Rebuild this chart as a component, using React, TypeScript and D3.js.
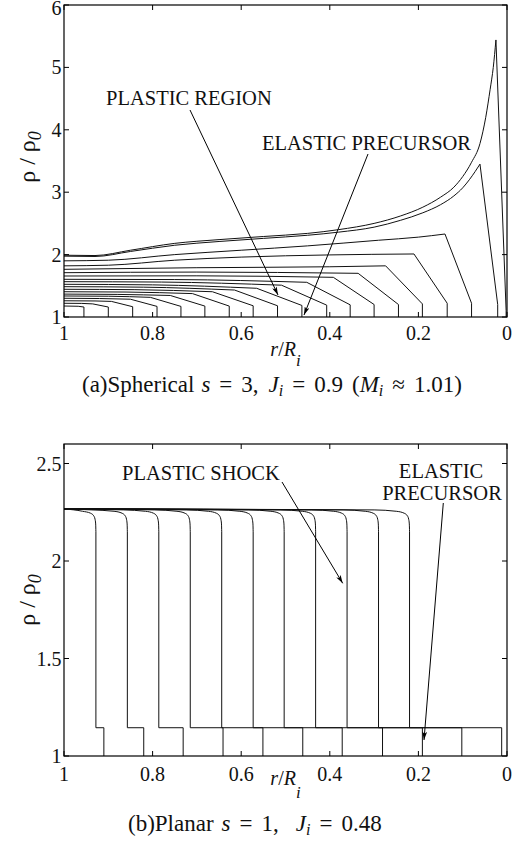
import React from "react";
import * as d3 from "d3";

const W = 521;
const H = 843;

// ---------- shared axis ticks ----------
const xTicks = [1, 0.8, 0.6, 0.4, 0.2, 0];
const xTickLabels = ["1", "0.8", "0.6", "0.4", "0.2", "0"];
const sphYTicks = [1, 2, 3, 4, 5, 6];
const sphYTickLabels = ["1", "2", "3", "4", "5", "6"];
const planYTicks = [1, 1.5, 2, 2.5];
const planYTickLabels = ["1", "1.5", "2", "2.5"];

// ---------- (a) spherical: plateau samples [r/Ri, rho/rho0] from r=1 to the plastic front ----------
const sphPlateau: [number, number][][] = [
  [[1, 1.176], [0.968, 1.172]],
  [[1, 1.22], [0.96, 1.218], [0.935, 1.21]],
  [[1, 1.26], [0.93, 1.257], [0.893, 1.25]],
  [[1, 1.3], [0.92, 1.296], [0.85, 1.285]],
  [[1, 1.337], [0.9, 1.333], [0.805, 1.315]],
  [[1, 1.367], [0.88, 1.362], [0.76, 1.345]],
  [[1, 1.405], [0.86, 1.4], [0.71, 1.375]],
  [[1, 1.444], [0.84, 1.438], [0.665, 1.405]],
  [[1, 1.486], [0.82, 1.478], [0.615, 1.432]],
  [[1, 1.524], [0.8, 1.515], [0.565, 1.46]],
  [[1, 1.566], [0.78, 1.56], [0.509, 1.51]],
  [[1, 1.604], [0.75, 1.6], [0.452, 1.556]],
  [[1, 1.657], [0.7, 1.66], [0.392, 1.636]],
  [[1, 1.71], [0.7, 1.72], [0.336, 1.7]],
  [[1, 1.764], [0.7, 1.79], [0.4, 1.805], [0.274, 1.82]],
  [[1, 1.82], [0.9, 1.83], [0.75, 1.91], [0.6, 1.96], [0.4, 1.995], [0.21, 2.01]],
  [[1, 1.9], [0.9, 1.91], [0.75, 2.0], [0.6, 2.07], [0.45, 2.14], [0.29, 2.23], [0.2, 2.28], [0.14, 2.33]],
  [[1, 1.975], [0.93, 1.97], [0.85, 2.05], [0.75, 2.15], [0.65, 2.21], [0.55, 2.26], [0.45, 2.31], [0.38, 2.36], [0.3, 2.44], [0.24, 2.55], [0.19, 2.67], [0.15, 2.8], [0.12, 2.94], [0.1, 3.07], [0.085, 3.2], [0.072, 3.33], [0.061, 3.45]],
  [[1, 1.99], [0.93, 1.985], [0.85, 2.07], [0.75, 2.18], [0.65, 2.24], [0.55, 2.29], [0.45, 2.34], [0.38, 2.4], [0.3, 2.5], [0.24, 2.62], [0.19, 2.76], [0.15, 2.92], [0.12, 3.08], [0.1, 3.25], [0.08, 3.48], [0.061, 3.78], [0.048, 4.2], [0.038, 4.65], [0.031, 5.0], [0.025, 5.44]],
];
const sphElasticFront = [0.955, 0.9, 0.845, 0.79, 0.736, 0.682, 0.627, 0.573, 0.518, 0.463, 0.407, 0.354, 0.3, 0.245, 0.191, 0.135, 0.08, 0.021, 0.002];
const sphPrecursor = [1.16, 1.16, 1.165, 1.17, 1.17, 1.175, 1.175, 1.18, 1.18, 1.185, 1.19, 1.195, 1.2, 1.2, 1.21, 1.22, 1.22, 1.2, 1.1];

// ---------- (b) planar ----------
const planPlastic = [0.928, 0.857, 0.786, 0.715, 0.644, 0.573, 0.503, 0.432, 0.361, 0.29, 0.22];
const planElastic = [0.91, 0.82, 0.731, 0.641, 0.551, 0.461, 0.372, 0.281, 0.191, 0.102, 0.012];
const planPlateauLevel = 2.267;
const planPrecursorLevel = 1.145;
// shape of the rounded shoulder just behind the plastic shock: [offset in r, drop in rho]
const planShoulder: [number, number][] = [
  [0.08, 0.005], [0.03, 0.012], [0.012, 0.022], [0.005, 0.035], [0.002, 0.052], [0.0005, 0.077], [0, 0.117],
];

const FONT = "'Liberation Serif', 'Times New Roman', Times, serif";
const INK = "#111";

const X0 = 64, X1 = 507;

function Axes({ x, y, yTicks, yLabels, labelBaseline, titleBaseline, subDy, yTitleY }: any) {
  const [yb, yt] = y.range();
  const tl = 5;
  return (
    <g fontFamily={FONT} fill={INK}>
      <rect x={X0} y={yt} width={X1 - X0} height={yb - yt} fill="none" stroke="#000" strokeWidth={1.2} />
      {xTicks.map((t, i) => (
        <g key={"xt" + i}>
          <line x1={x(t)} x2={x(t)} y1={yb} y2={yb - tl} stroke="#000" strokeWidth={1} />
          <line x1={x(t)} x2={x(t)} y1={yt} y2={yt + tl} stroke="#000" strokeWidth={1} />
          <text x={x(t)} y={labelBaseline} fontSize={20} textAnchor="middle">{xTickLabels[i]}</text>
        </g>
      ))}
      {yTicks.map((t: number, i: number) => (
        <g key={"yt" + i}>
          <line x1={X0} x2={X0 + tl} y1={y(t)} y2={y(t)} stroke="#000" strokeWidth={1} />
          <line x1={X1} x2={X1 - tl} y1={y(t)} y2={y(t)} stroke="#000" strokeWidth={1} />
          <text x={61.5} y={Math.max(y(t), 8)} dy="0.35em" fontSize={20} textAnchor="end">{yLabels[i]}</text>
        </g>
      ))}
      <text x={(X0 + X1) / 2} y={titleBaseline} fontSize={20} textAnchor="middle">
        <tspan fontStyle="italic">r</tspan>/<tspan fontStyle="italic">R</tspan>
        <tspan fontStyle="italic" fontSize={17} dy={subDy}>i</tspan>
      </text>
      <text transform={`translate(35,${yTitleY}) rotate(-90)`} fontSize={24} textAnchor="middle">
        ρ / ρ<tspan fontSize={18} fontStyle="italic" dy={6}>0</tspan>
      </text>
    </g>
  );
}

export default function App() {
  const x = d3.scaleLinear().domain([1, 0]).range([X0, X1]);
  const yA = d3.scaleLinear().domain([1, 6]).range([317, 5]);
  const yB = d3.scaleLinear().domain([1, 2.6]).range([756, 444]);

  const lineA = d3.line<[number, number]>().x((d) => x(d[0])).y((d) => yA(d[1])).curve(d3.curveMonotoneX);
  const lineB = d3.line<[number, number]>().x((d) => x(d[0])).y((d) => yB(d[1])).curve(d3.curveMonotoneX);

  const sphPaths = sphPlateau.map((pl, i) => {
    const re = sphElasticFront[i];
    const pe = sphPrecursor[i];
    return `${lineA(pl)}L${x(re)},${yA(pe)}L${x(re)},${yA(1)}`;
  });

  const planPaths = planPlastic.map((rp, i) => {
    const re = planElastic[i];
    const pts: [number, number][] = [[1, planPlateauLevel]];
    planShoulder.forEach(([dr, drop]) => {
      if (rp + dr < 1) pts.push([rp + dr, planPlateauLevel - drop]);
    });
    return `${lineB(pts)}L${x(rp)},${yB(planPrecursorLevel)}L${x(re)},${yB(planPrecursorLevel)}L${x(re)},${yB(1)}`;
  });

  const gap = 9; // TeX-like spacing around relations
  return (
    <svg width={W} height={H} viewBox={`0 0 ${W} ${H}`} style={{ position: "absolute", left: 0, top: 0, background: "#fff" }}>
      <defs>
        <marker id="arr" viewBox="0 0 10 6" refX={10} refY={3} markerWidth={9} markerHeight={5} orient="auto" markerUnits="userSpaceOnUse">
          <path d="M0,0 L10,3 L0,6 L2.5,3 z" fill="#000" />
        </marker>
      </defs>

      {/* ---------- panel (a) ---------- */}
      <g fill="none" stroke={INK} strokeWidth={1} strokeLinejoin="miter">
        {sphPaths.map((d, i) => <path key={i} d={d} />)}
      </g>
      <Axes x={x} y={yA} yTicks={sphYTicks} yLabels={sphYTickLabels} labelBaseline={339.5} titleBaseline={356} subDy={10} yTitleY={157} />
      <g fontFamily={FONT} fill={INK} fontSize={20.5}>
        <text x={106} y={105}>PLASTIC REGION</text>
        <text x={262} y={150}>ELASTIC PRECURSOR</text>
      </g>
      <line x1={190} y1={110} x2={278} y2={295} stroke="#000" strokeWidth={1} markerEnd="url(#arr)" />
      <line x1={368} y1={154} x2={304} y2={315} stroke="#000" strokeWidth={1} markerEnd="url(#arr)" />
      <text x={82} y={392} fontFamily={FONT} fontSize={23} fill={INK}>
        (a)Spherical<tspan fontStyle="italic" dx={7}>s</tspan>
        <tspan dx={gap}>=</tspan><tspan dx={gap}>3,</tspan>
        <tspan fontStyle="italic" dx={10}>J</tspan>
        <tspan fontStyle="italic" fontSize={16} dy={4}>i</tspan>
        <tspan dy={-4} dx={gap}>=</tspan><tspan dx={gap}>0.9</tspan>
        <tspan dx={9}>(</tspan><tspan fontStyle="italic">M</tspan>
        <tspan fontStyle="italic" fontSize={16} dy={4}>i</tspan>
        <tspan dy={-4} dx={gap}>≈</tspan><tspan dx={gap}>1.01)</tspan>
      </text>

      {/* ---------- panel (b) ---------- */}
      <g fill="none" stroke={INK} strokeWidth={1}>
        {planPaths.map((d, i) => <path key={i} d={d} />)}
      </g>
      <Axes x={x} y={yB} yTicks={planYTicks} yLabels={planYTickLabels} labelBaseline={780.5} titleBaseline={785} subDy={13} yTitleY={600} />
      <g fontFamily={FONT} fill={INK} fontSize={20.5}>
        <text x={122} y={480}>PLASTIC SHOCK</text>
        <text x={441} y={478} textAnchor="middle">ELASTIC</text>
        <text x={442} y={500} textAnchor="middle">PRECURSOR</text>
      </g>
      <line x1={282} y1={482} x2={342.7} y2={583.3} stroke="#000" strokeWidth={1} markerEnd="url(#arr)" />
      <line x1={443.3} y1={503} x2={424} y2={740} stroke="#000" strokeWidth={1} markerEnd="url(#arr)" />
      <text x={128} y={831} fontFamily={FONT} fontSize={23} fill={INK}>
        (b)Planar<tspan fontStyle="italic" dx={8}>s</tspan>
        <tspan dx={gap}>=</tspan><tspan dx={gap}>1,</tspan>
        <tspan fontStyle="italic" dx={17}>J</tspan>
        <tspan fontStyle="italic" fontSize={16} dy={4}>i</tspan>
        <tspan dy={-4} dx={gap}>=</tspan><tspan dx={gap}>0.48</tspan>
      </text>
    </svg>
  );
}
